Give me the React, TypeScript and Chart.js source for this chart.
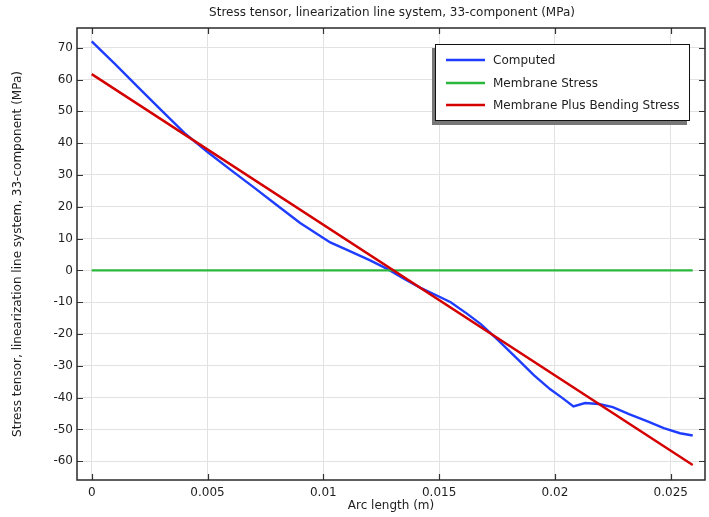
import React, { useEffect, useRef } from "react";
import { Chart, registerables } from "chart.js";

Chart.register(...registerables);

// Arc length along the linearization line (m) and computed 33-stress (MPa)
const computedX = [
  0, 0.001, 0.002, 0.003, 0.004, 0.005, 0.006, 0.007, 0.008, 0.009, 0.0103,
  0.011, 0.012, 0.0128, 0.0135, 0.0142, 0.0149, 0.0155, 0.0162, 0.0168, 0.0175,
  0.0184, 0.0191, 0.0198, 0.0203, 0.0208, 0.0213, 0.0219, 0.0225, 0.0232,
  0.024, 0.0247, 0.0254, 0.02595,
];
const computedY = [
  72, 64.9, 57.6, 50.4, 43.2, 37.2, 31.6, 26.1, 20.5, 14.9, 8.8, 6.5, 3.2, 0.3,
  -2.7, -5.5, -7.9, -10, -13.6, -16.9, -21.6, -28, -33, -37.4, -40, -42.8,
  -41.7, -42, -43, -45.2, -47.5, -49.6, -51.2, -51.9,
];

// Linearized stresses: end points of the line segments
const linearX = [0, 0.02595];
const membraneY = [0, 0];
const membraneBendingY = [61.7, -61.2];

const seriesLabels = ["Computed", "Membrane Stress", "Membrane Plus Bending Stress"];
const seriesColors = ["#1f3dff", "#2ab83c", "#d40000"];

const xTickStep = 0.005;
const yTickStep = 10;

const chartTitle = "Stress tensor, linearization line system, 33-component (MPa)";
const xAxisTitle = "Arc length (m)";
const yAxisTitle = "Stress tensor, linearization line system, 33-component (MPa)";

const FONT = "DejaVu Sans";
const TEXT = "#1e1e1e";

const toPoints = (xs: number[], ys: number[]) => xs.map((x, i) => ({ x, y: ys[i] }));

const framePlugin = {
  id: "frameAndDecor",
  afterDraw(chart: any) {
    const { ctx, chartArea } = chart;
    const { left, top, right, bottom } = chartArea;
    const xs = chart.scales.x;
    const ys = chart.scales.y;
    ctx.save();

    // inward tick marks on all four sides
    ctx.strokeStyle = "#333";
    ctx.lineWidth = 1.2;
    const tl = 6;
    ctx.beginPath();
    xs.ticks.forEach((t: any) => {
      const p = Math.round(xs.getPixelForValue(t.value)) + 0.5;
      ctx.moveTo(p, bottom);
      ctx.lineTo(p, bottom - tl);
      ctx.moveTo(p, top);
      ctx.lineTo(p, top + tl);
    });
    ys.ticks.forEach((t: any) => {
      const p = Math.round(ys.getPixelForValue(t.value)) + 0.5;
      ctx.moveTo(left, p);
      ctx.lineTo(left + tl, p);
      ctx.moveTo(right, p);
      ctx.lineTo(right - tl, p);
    });
    ctx.stroke();

    // axes frame
    ctx.lineWidth = 1.5;
    ctx.strokeStyle = "#2a2a2a";
    ctx.strokeRect(left, top, right - left, bottom - top);

    // titles
    ctx.fillStyle = TEXT;
    ctx.font = `12px '${FONT}'`;
    ctx.textAlign = "center";
    ctx.textBaseline = "middle";
    ctx.fillText(chartTitle, (left + right) / 2 + 1, 13);
    ctx.fillText(xAxisTitle, (left + right) / 2, 506);
    ctx.save();
    ctx.translate(18, (top + bottom) / 2);
    ctx.rotate(-Math.PI / 2);
    ctx.fillText(yAxisTitle, 0, 0);
    ctx.restore();

    // legend box with drop shadow
    const bx = 435, by = 44, bw = 255, bh = 77;
    ctx.fillStyle = "#777";
    ctx.fillRect(bx - 3, by + 4, bw, bh);
    ctx.fillStyle = "#fff";
    ctx.fillRect(bx, by, bw, bh);
    ctx.lineWidth = 1;
    ctx.strokeStyle = "#111";
    ctx.strokeRect(bx + 0.5, by + 0.5, bw - 1, bh - 1);

    const rowsY = [60, 83, 105];
    chart.data.datasets.forEach((ds: any, i: number) => {
      ctx.strokeStyle = ds.borderColor;
      ctx.lineWidth = 2.5;
      ctx.beginPath();
      ctx.moveTo(446, rowsY[i]);
      ctx.lineTo(485, rowsY[i]);
      ctx.stroke();
      ctx.fillStyle = TEXT;
      ctx.textAlign = "left";
      ctx.textBaseline = "middle";
      ctx.fillText(ds.label, 493, rowsY[i] + 0.5);
    });

    ctx.restore();
  },
};

export default function App() {
  const canvasRef = useRef<HTMLCanvasElement | null>(null);

  useEffect(() => {
    const canvas = canvasRef.current;
    if (!canvas) return;
    const chart = new Chart(canvas, {
      type: "line",
      data: {
        datasets: [
          {
            label: seriesLabels[0],
            data: toPoints(computedX, computedY),
            borderColor: seriesColors[0],
            borderWidth: 2.4,
            pointRadius: 0,
            tension: 0,
            order: 2,
          },
          {
            label: seriesLabels[1],
            data: toPoints(linearX, membraneY),
            borderColor: seriesColors[1],
            borderWidth: 2.4,
            pointRadius: 0,
            order: 1,
          },
          {
            label: seriesLabels[2],
            data: toPoints(linearX, membraneBendingY),
            borderColor: seriesColors[2],
            borderWidth: 2.4,
            pointRadius: 0,
            order: 0,
          },
        ],
      },
      options: {
        responsive: false,
        animation: false,
        devicePixelRatio: 1,
        layout: { padding: { top: 28, right: 4, left: 0, bottom: 0 } },
        plugins: {
          legend: { display: false },
          title: { display: false },
          tooltip: { enabled: false },
        },
        scales: {
          x: {
            type: "linear",
            min: -0.000635,
            max: 0.02648,
            afterFit(scale: any) {
              scale.height = 37;
            },
            ticks: {
              stepSize: xTickStep,
              includeBounds: false,
              padding: 6,
              maxRotation: 0,
              color: TEXT,
              font: { family: FONT, size: 12 },
              callback: (v: any) => String(Number(Number(v).toFixed(4))),
            },
            grid: { color: "#e2e2e2", lineWidth: 1, drawTicks: false },
            border: { display: false },
          },
          y: {
            type: "linear",
            min: -65.9,
            max: 76.2,
            afterFit(scale: any) {
              scale.width = 77;
            },
            ticks: {
              stepSize: yTickStep,
              includeBounds: false,
              padding: 4,
              color: TEXT,
              font: { family: FONT, size: 12 },
            },
            grid: { color: "#e2e2e2", lineWidth: 1, drawTicks: false },
            border: { display: false },
          },
        },
      },
      plugins: [framePlugin],
    });
    return () => chart.destroy();
  }, []);

  return (
    <div style={{ position: "absolute", left: 0, top: 0, width: 709, height: 517, background: "#fff" }}>
      <canvas ref={canvasRef} width={709} height={517} />
    </div>
  );
}
